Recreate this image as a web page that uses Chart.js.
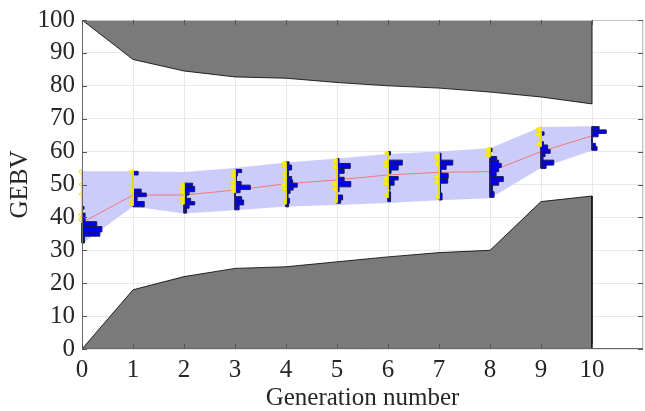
<!DOCTYPE html>
<html><head><meta charset="utf-8">
<script src="https://cdn.jsdelivr.net/npm/chart.js@4/dist/chart.umd.min.js"></script>
<style>html,body{margin:0;padding:0;background:#fff}</style>
</head><body>
<canvas id="c" width="645" height="411"></canvas>
<script>
const generations = [0,1,2,3,4,5,6,7,8,9,10];
const xTickLabels = ['0','1','2','3','4','5','6','7','8','9','10'];
const yTickValues = [0,10,20,30,40,50,60,70,80,90,100];
const upperLimit = [100,88,84.5,82.7,82.3,81,80,79.3,78.1,76.6,74.5];
const lowerLimit = [0,18,22,24.5,25,26.5,28,29.3,30,44.8,46.5];
const bandUpper = [54,54,53.8,55,56.7,57.9,59.3,60,61,67.5,67.7];
const bandLower = [32,43.3,41.2,42.2,43.3,43.8,44.4,45.2,45.8,55,60.3];
const meanGEBV = [38.4,46.8,46.8,48.3,50.2,51.4,52.9,53.7,53.9,60,64.8];
// histogram bins per generation: [GEBV low, GEBV high, bar length in generation units]
const histBlue = [
  [[32.2,34.3,0.05],[34.3,35.6,0.35],[35.6,37.2,0.39],[37.2,38.7,0.29],[38.7,41.3,0.06],[42.5,43.3,0.04]],
  [[43.2,44.8,0.22],[44.8,46.3,0.08],[46.3,47.4,0.26],[47.4,48.6,0.16],[52.9,54,0.1]],
  [[41.3,42.8,0.05],[42.8,43.8,0.1],[43.8,44.8,0.21],[44.8,45.8,0.13],[45.9,46.8,0.05],[46.8,47.8,0.1],[47.8,49.4,0.21],[49.4,50.4,0.17]],
  [[42.3,43.8,0.08],[43.8,45.3,0.17],[45.3,46.3,0.13],[47.5,48.5,0.1],[48.5,49.8,0.3],[49.8,50.9,0.12],[50.9,52.6,0.03],[52.6,53.6,0.05],[53.6,54.6,0.13]],
  [[43.2,44.3,0.05],[44.3,45.8,0.07],[45.8,47.3,0.04],[47.3,48.3,0.08],[48.3,49.2,0.14],[49.2,50.4,0.22],[50.4,51.4,0.13],[51.4,52.4,0.11],[52.4,54.4,0.05],[54.4,55.9,0.11],[55.9,56.9,0.06]],
  [[44.3,45.3,0.07],[45.3,46.8,0.11],[47.8,49.3,0.04],[49.3,50.9,0.27],[50.9,52.2,0.14],[52.2,53.4,0.04],[53.4,54.9,0.14],[54.9,56.4,0.26],[56.4,57.9,0.04]],
  [[44.8,47.8,0.05],[48.3,49.8,0.04],[49.8,51.4,0.12],[51.4,52.4,0.2],[53.4,54.4,0.06],[54.4,55.9,0.2],[55.9,57.4,0.28],[59,60,0.05]],
  [[45.3,47.4,0.06],[47.4,50.4,0.03],[50.4,51.9,0.17],[51.9,53.4,0.18],[53.4,54.6,0.04],[54.6,55.9,0.14],[55.9,57.4,0.27],[57.4,59.5,0.04]],
  [[46.1,47.8,0.08],[47.8,49.8,0.05],[49.8,50.9,0.17],[50.9,52.4,0.26],[52.4,53.9,0.12],[53.9,55.2,0.17],[55.2,56.4,0.22],[56.4,57.4,0.17],[57.4,58.5,0.13],[60,61,0.04]],
  [[54.9,55.9,0.1],[55.9,57.4,0.25],[57.4,58.5,0.04],[58.5,59.5,0.08],[59.5,60.6,0.18],[60.6,62,0.13],[62,63,0.05],[65,66,0.06]],
  [[60.4,61.5,0.1],[61.5,62.5,0.07],[64.5,65.5,0.12],[65.5,66.6,0.28],[66.6,67.6,0.14]]
];
const histYellow = [
  [[53.3,54.5,0.06],[49.5,50.5,0.05],[46.5,47.5,0.05],[38.5,40,0.06],[40,41.5,0.06]],
  [[53.3,54.5,0.07],[47.5,48.7,0.06],[43.5,44.5,0.07],[44.5,45.5,0.06]],
  [[44,45.2,0.07],[45.2,46.3,0.08],[47,48.2,0.07],[48.2,49.4,0.09],[49.4,50.5,0.06]],
  [[47.5,48.7,0.07],[48.7,50,0.09],[50,51.2,0.08],[52,53.3,0.07],[53.3,54.6,0.06]],
  [[44,45.5,0.05],[48,49.2,0.08],[49.2,50.5,0.09],[51,52.5,0.06],[52.5,54,0.06],[55,56,0.07],[56,57,0.08]],
  [[44.5,45.5,0.05],[48,49.5,0.08],[49.5,51,0.09],[54.5,56.2,0.08],[56.2,57.9,0.07]],
  [[46,47.5,0.06],[49.5,51,0.08],[51,52.5,0.09],[55,56.2,0.08],[56.2,57.5,0.07],[59,60,0.06]],
  [[45.5,47,0.06],[50,51.5,0.08],[51.5,53,0.08],[55.5,57.5,0.07],[57.5,59.5,0.08]],
  [[58.3,59.8,0.09],[59.8,61.3,0.08]],
  [[61.5,63,0.08],[64.5,66,0.1],[66,67.5,0.09]],
  []
];

function pts(xs, ys){ return xs.map((x,i)=>({x:x, y:ys[i]})); }
function blueShape(g, bins){
  const p = [];
  bins.forEach(b => { p.push({x:g,y:b[0]},{x:g+b[2],y:b[0]},{x:g+b[2],y:b[1]},{x:g,y:b[1]}); });
  p.push({x:g,y:bins[0][0]});
  return p;
}
function yellowShape(g, bins){
  const p = [];
  bins.forEach(b => {
    const h = b[1]-b[0];
    p.push({x:g,y:b[0]},{x:g-b[2],y:b[0]+0.3*h},{x:g-b[2],y:b[1]-0.3*h},{x:g,y:b[1]});
  });
  if (p.length) p.push(p[0]);
  return p;
}

const n = generations.length;
const last = generations[n-1], first = generations[0];
const datasets = [];
datasets.push({data: [{x:first,y:100}].concat(pts(generations, upperLimit), [{x:last,y:100},{x:first,y:100}]),
  borderColor:'#000', borderWidth:0.8, backgroundColor:'rgb(122,122,122)', fill:'shape', order:100});
datasets.push({data: [{x:first,y:0}].concat(pts(generations, lowerLimit), [{x:last,y:0},{x:first,y:0}]),
  borderColor:'#000', borderWidth:0.8, backgroundColor:'rgb(122,122,122)', fill:'shape', order:100});
datasets.push({data: pts(generations, bandUpper).concat(pts(generations.slice().reverse(), bandLower.slice().reverse())),
  borderColor:'rgba(0,0,0,0)', borderWidth:0, backgroundColor:'rgb(204,204,250)', fill:'shape', order:90});
datasets.push({data: pts(generations, meanGEBV), borderColor:'rgb(240,120,120)', borderWidth:1, fill:false, order:50});
generations.forEach((g,i) => {
  datasets.push({data: blueShape(g, histBlue[i]), borderColor:'#1a1a5a', borderWidth:1, backgroundColor:'rgb(0,0,240)', fill:'shape', order:10, clip:false});
  if (histYellow[i].length) datasets.push({data: yellowShape(g, histYellow[i]), borderColor:'rgb(240,230,0)', borderWidth:1, backgroundColor:'rgb(255,245,0)', fill:'shape', order:5, clip:false});
});
datasets.forEach(d => { d.pointRadius = 0; d.pointHoverRadius = 0; d.tension = 0; });

const framePlugin = {
  id:'frame',
  afterDraw(chart){
    const {ctx, chartArea:a, scales:{x, y}} = chart;
    ctx.save();
    ctx.lineWidth = 1;
    ctx.strokeStyle = '#c4c4c4';
    ctx.beginPath();
    ctx.moveTo(a.left, a.top+0.5); ctx.lineTo(a.right-0.5, a.top+0.5); ctx.lineTo(a.right-0.5, a.bottom);
    ctx.stroke();
    ctx.strokeStyle = '#666';
    ctx.beginPath();
    ctx.moveTo(a.left+0.5, a.top); ctx.lineTo(a.left+0.5, a.bottom-0.5); ctx.lineTo(a.right, a.bottom-0.5);
    ctx.stroke();
    ctx.strokeStyle = '#555';
    ctx.beginPath();
    generations.forEach(g => {
      const px = Math.round(x.getPixelForValue(g))+0.5;
      ctx.moveTo(px, a.bottom); ctx.lineTo(px, a.bottom-5);
      ctx.moveTo(px, a.top); ctx.lineTo(px, a.top+5);
    });
    yTickValues.forEach(v => {
      const py = Math.round(y.getPixelForValue(v))+0.5;
      ctx.moveTo(a.left, py); ctx.lineTo(a.left+5, py);
      ctx.moveTo(a.right, py); ctx.lineTo(a.right-5, py);
    });
    ctx.stroke();
    ctx.restore();
  }
};

const font = {family:'"Liberation Serif", "Times New Roman", serif', size:25};
new Chart(document.getElementById('c'), {
  type:'line',
  data:{datasets},
  options:{
    responsive:false, animation:false, devicePixelRatio:1,
    layout:{padding:{left:8, top:20, right:2, bottom:0}},
    plugins:{legend:{display:false}, tooltip:{enabled:false}},
    scales:{
      x:{type:'linear', min:0, max:11,
        ticks:{stepSize:1, autoSkip:false, maxRotation:0, padding:6, color:'#262626', font:font,
          callback:(v)=> (Number.isInteger(v) && v < xTickLabels.length) ? xTickLabels[v] : ''},
        grid:{color:'#e8e8e8', drawTicks:false}, border:{display:false},
        title:{display:true, text:'Generation number', color:'#262626', padding:0, font:Object.assign({}, font, {lineHeight:1})},
        afterFit(s){ s.height = 62; s.paddingLeft = 0; s.paddingRight = 0; }},
      y:{type:'linear', min:0, max:100,
        ticks:{stepSize:10, autoSkip:false, padding:7, color:'#262626', font:font},
        grid:{color:'#e8e8e8', drawTicks:false}, border:{display:false},
        title:{display:true, text:'GEBV', color:'#262626', padding:0, font:Object.assign({}, font, {lineHeight:1})},
        afterFit(s){ s.width = 74; s.paddingTop = 0; s.paddingBottom = 0; }}
    }
  },
  plugins:[framePlugin]
});
</script>
</body></html>
